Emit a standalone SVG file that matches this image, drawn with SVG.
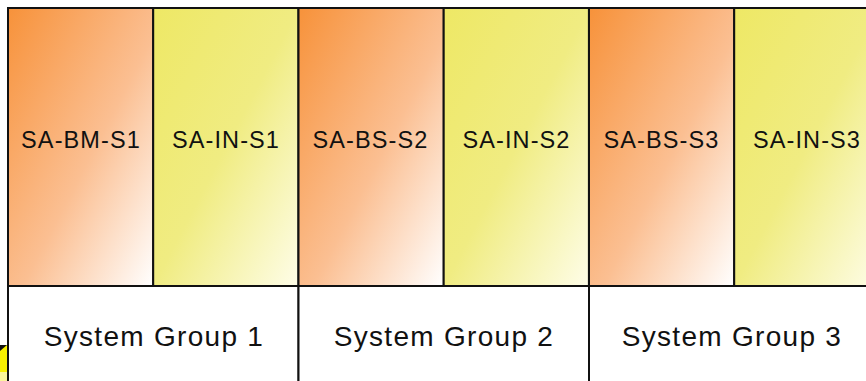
<svg xmlns="http://www.w3.org/2000/svg" width="866" height="381" viewBox="0 0 866 381">
<defs>
<linearGradient id="gO" x1="0" y1="0" x2="1" y2="1">
<stop offset="0" stop-color="#f7923a"/>
<stop offset="0.55" stop-color="#fbbf92"/>
<stop offset="1" stop-color="#ffffff"/>
</linearGradient>
<linearGradient id="gY" x1="0" y1="0" x2="1" y2="1">
<stop offset="0" stop-color="#eee865"/>
<stop offset="0.5" stop-color="#f0ec82"/>
<stop offset="1" stop-color="#fefde8"/>
</linearGradient>
</defs>
<style>
.o{fill:url(#gO);stroke:#111;stroke-width:2}
.y{fill:url(#gY);stroke:#111;stroke-width:2}
.g{fill:#fff;stroke:#111;stroke-width:2}
.t{font-family:"Liberation Sans",Arial,sans-serif;font-size:23.5px;letter-spacing:1.1px;fill:#111;text-anchor:middle}
.tg{font-family:"Liberation Sans",Arial,sans-serif;font-size:28px;letter-spacing:1.3px;fill:#111;text-anchor:middle}
</style>
<rect width="866" height="381" fill="#fff"/>
<g id="edge-shape">
<polygon points="0,350 6,345 8,345 8,381 0,381" fill="#f8f000"/>
<polygon points="0,345 7,345 0,351" fill="#111"/>
<rect x="0" y="372" width="8" height="9" fill="#faf59a"/>
</g>
<g id="group1"><rect class="g" x="8" y="286" width="290.5" height="110"/><text class="tg" x="154" y="346">System Group 1</text></g>
<g id="group2"><rect class="g" x="298.5" y="286" width="290.5" height="110"/><text class="tg" x="444" y="346">System Group 2</text></g>
<g id="group3"><rect class="g" x="589" y="286" width="290.5" height="110"/><text class="tg" x="732" y="346">System Group 3</text></g>
<g id="SA-BM-S1"><rect class="o" x="8" y="8" width="145.2" height="278"/><text class="t" x="81" y="148">SA-BM-S1</text></g>
<g id="SA-IN-S1"><rect class="y" x="153.2" y="8" width="145.2" height="278"/><text class="t" x="226" y="148">SA-IN-S1</text></g>
<g id="SA-BS-S2"><rect class="o" x="298.5" y="8" width="145.2" height="278"/><text class="t" x="370.5" y="148">SA-BS-S2</text></g>
<g id="SA-IN-S2"><rect class="y" x="443.7" y="8" width="145.2" height="278"/><text class="t" x="516.5" y="148">SA-IN-S2</text></g>
<g id="SA-BS-S3"><rect class="o" x="589" y="8" width="145.2" height="278"/><text class="t" x="661.5" y="148">SA-BS-S3</text></g>
<g id="SA-IN-S3"><rect class="y" x="734.2" y="8" width="145.2" height="278"/><text class="t" x="807" y="148">SA-IN-S3</text></g>
<g id="connectors"></g>
</svg>
